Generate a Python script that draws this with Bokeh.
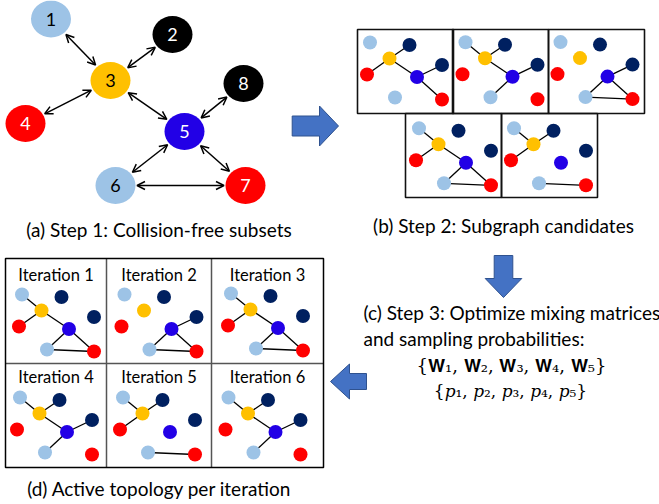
import math
from bokeh.plotting import figure
from bokeh.models import Range1d, ColumnDataSource, Arrow, OpenHead
from bokeh.core.properties import value
from bokeh.embed import file_html
from bokeh.resources import INLINE

W, H = 659, 504
FONT = "Lato"

# ---------- Step 1: the full communication graph ----------
node_ids = ["1", "2", "3", "4", "5", "6", "7", "8"]
node_x = [50.5, 172, 110, 25, 184, 115, 245, 243]
node_y = [18.5, 34, 80, 123, 131, 185, 185, 83]
node_fill = ["#9DC3E6", "#000000", "#FFC000", "#FF0000", "#2200E6",
             "#9DC3E6", "#FF0000", "#000000"]
node_label_color = ["black", "white", "black", "white", "white",
                    "black", "white", "white"]
links = [("1", "3"), ("2", "3"), ("4", "3"), ("3", "5"),
         ("8", "5"), ("5", "6"), ("5", "7"), ("6", "7")]

# ---------- small graphs: shared layout (offsets inside a panel) ----------
mini_fill = ["#9DC3E6", "#002060", "#FFC000", "#FF0000", "#2200E6",
             "#9DC3E6", "#FF0000", "#002060"]
mini_dx = [12, 51.5, 31.5, 9, 59, 37, 84, 84]
mini_dy = [13, 15.5, 29, 45, 47.5, 68, 70, 35.5]

# Step 2: subgraph candidates (edge lists)
candidates = [
    [("3", "2"), ("3", "4"), ("3", "5"), ("5", "8"), ("5", "7")],
    [("1", "3"), ("3", "2"), ("3", "5"), ("5", "8"), ("5", "6")],
    [("5", "8"), ("5", "6"), ("5", "7"), ("6", "7")],
    [("1", "3"), ("3", "4"), ("3", "5"), ("5", "6"), ("5", "7"), ("6", "7")],
    [("1", "3"), ("3", "2"), ("3", "4"), ("6", "7")],
]
cand_box_left = [357, 452, 548, 405, 501]
cand_box_top = [29, 29, 29, 113, 113]
cand_box_w, cand_box_h = 96, 84
cand_graph_x = [357.5, 453, 548, 406.5, 501.5]
cand_graph_y = [29, 28.7, 28.6, 114.8, 114.8]

# Step 4: which candidate is active at each iteration
iteration_labels = ["Iteration 1", "Iteration 2", "Iteration 3",
                    "Iteration 4", "Iteration 5", "Iteration 6"]
iteration_choice = [4, 3, 4, 2, 5, 2]
grid_cols = [5, 106, 211, 323]
grid_rows = [258, 363, 467]
iter_graph_x = [9.5, 112, 218.5, 7.5, 110.5, 216]
iter_graph_y = [281, 281, 280, 384, 384, 384]
iter_title_y = [274, 274, 274, 376, 376, 376]

# ---------- block arrows: (x0, y0, x1, y1, shaft half width, head half width, head length)
block_arrows = [
    (291.7, 125.5, 338, 125.5, 10, 20, 19),
    (503, 255, 503, 297, 9.3, 18.3, 19),
    (366, 381, 330, 381, 8, 17.5, 19),
]

captions = ["(a) Step 1: Collision-free subsets",
            "(b) Step 2: Subgraph candidates",
            "(d) Active topology per iteration"]
caption_x = [158.5, 503, 159]
caption_y = [229, 225, 488]

step3_lines = ["(c) Step 3: Optimize mixing matrices",
               "and sampling probabilities:"]
step3_x = [363, 363]
step3_y = [312, 338]
formula_lines = ["{\U0001D416\u2081, \U0001D416\u2082, \U0001D416\u2083, \U0001D416\u2084, \U0001D416\u2085}",
                 "{\U0001D45D\u2081, \U0001D45D\u2082, \U0001D45D\u2083, \U0001D45D\u2084, \U0001D45D\u2085}"]
formula_x = [511, 510]
formula_y = [365, 390]
formula_size = ["18px", "17px"]

p = figure(width=W, height=H, x_range=Range1d(0, W), y_range=Range1d(H, 0),
           output_backend="svg", toolbar_location=None, min_border=0)
p.axis.visible = False
p.grid.visible = False
p.outline_line_color = None
p.background_fill_color = "white"

# ---------- Step 1 graph ----------
pos = {n: (x, y) for n, x, y in zip(node_ids, node_x, node_y)}
gap = 21.5
xs, ys, xe, ye = [], [], [], []
for a, b in links:
    (ax, ay), (bx, by) = pos[a], pos[b]
    d = math.hypot(bx - ax, by - ay)
    ux, uy = (bx - ax) / d, (by - ay) / d
    xs.append(ax + ux * gap); ys.append(ay + uy * gap)
    xe.append(bx - ux * gap); ye.append(by - uy * gap)
arr_src = ColumnDataSource(dict(xs=xs, ys=ys, xe=xe, ye=ye))
p.add_layout(Arrow(start=OpenHead(size=8, line_width=1.5),
                   end=OpenHead(size=8, line_width=1.5),
                   x_start="xs", y_start="ys", x_end="xe", y_end="ye",
                   source=arr_src, line_width=1.5, line_color="black"))

p.ellipse(x=node_x, y=node_y, width=40, height=37, fill_color=node_fill,
          line_color=None)
p.text(x=node_x, y=node_y, text=node_ids, text_color=node_label_color,
       text_font=value(FONT), text_font_size="18px", text_align="center",
       text_baseline="middle")


def mini_graph(ox, oy, edges):
    mpos = {n: (ox + dx, oy + dy) for n, dx, dy in zip(node_ids, mini_dx, mini_dy)}
    if edges:
        p.segment(x0=[mpos[a][0] for a, b in edges], y0=[mpos[a][1] for a, b in edges],
                  x1=[mpos[b][0] for a, b in edges], y1=[mpos[b][1] for a, b in edges],
                  line_color="black", line_width=1.3)
    p.circle(x=[mpos[n][0] for n in node_ids], y=[mpos[n][1] for n in node_ids],
             radius=7, fill_color=mini_fill, line_color=None)


# ---------- Step 2 panels ----------
for i, edges in enumerate(candidates):
    mini_graph(cand_graph_x[i], cand_graph_y[i], edges)
p.quad(left=cand_box_left, right=[l + cand_box_w for l in cand_box_left],
       top=cand_box_top, bottom=[t + cand_box_h for t in cand_box_top],
       fill_color=None, line_color="#111111", line_width=1.6)

# ---------- Step 4 grid ----------
for k, c in enumerate(iteration_choice):
    mini_graph(iter_graph_x[k], iter_graph_y[k], candidates[c - 1])
p.segment(x0=[grid_cols[1], grid_cols[2], grid_cols[0]],
          y0=[grid_rows[0], grid_rows[0], grid_rows[1]],
          x1=[grid_cols[1], grid_cols[2], grid_cols[3]],
          y1=[grid_rows[2], grid_rows[2], grid_rows[1]],
          line_color="#555555", line_width=1.5)
p.quad(left=[grid_cols[0]], right=[grid_cols[3]], top=[grid_rows[0]],
       bottom=[grid_rows[2]], fill_color=None, line_color="black", line_width=1.5)
title_x = [(grid_cols[i % 3] + grid_cols[i % 3 + 1]) / 2 for i in range(6)]
p.text(x=title_x, y=iter_title_y, text=iteration_labels, text_font=value(FONT),
       text_font_size="16.5px", text_align="center", text_baseline="middle",
       text_color="black")

# ---------- block arrows ----------
pxs, pys = [], []
for x0, y0, x1, y1, sw, hw, hl in block_arrows:
    L = math.hypot(x1 - x0, y1 - y0)
    ux, uy = (x1 - x0) / L, (y1 - y0) / L
    nx, ny = -uy, ux
    bx, by = x1 - ux * hl, y1 - uy * hl
    pts = [(x0 + nx * sw, y0 + ny * sw), (bx + nx * sw, by + ny * sw),
           (bx + nx * hw, by + ny * hw), (x1, y1),
           (bx - nx * hw, by - ny * hw), (bx - nx * sw, by - ny * sw),
           (x0 - nx * sw, y0 - ny * sw)]
    pxs.append([q[0] for q in pts]); pys.append([q[1] for q in pts])
p.patches(xs=pxs, ys=pys, fill_color="#4472C4", line_color="#2F528F", line_width=1)

# ---------- texts ----------
p.text(x=caption_x, y=caption_y, text=captions, text_font=value(FONT),
       text_font_size="19px", text_align="center", text_baseline="middle",
       text_color="black")
p.text(x=step3_x, y=step3_y, text=step3_lines, text_font=value(FONT),
       text_font_size="19px", text_align="left", text_baseline="middle",
       text_color="black")
p.text(x=formula_x, y=formula_y, text=formula_lines, text_font=value("DejaVu Serif"),
       text_font_size=formula_size, text_align="center", text_baseline="middle",
       text_color="black")

open("out.html", "w").write(file_html(p, INLINE))
